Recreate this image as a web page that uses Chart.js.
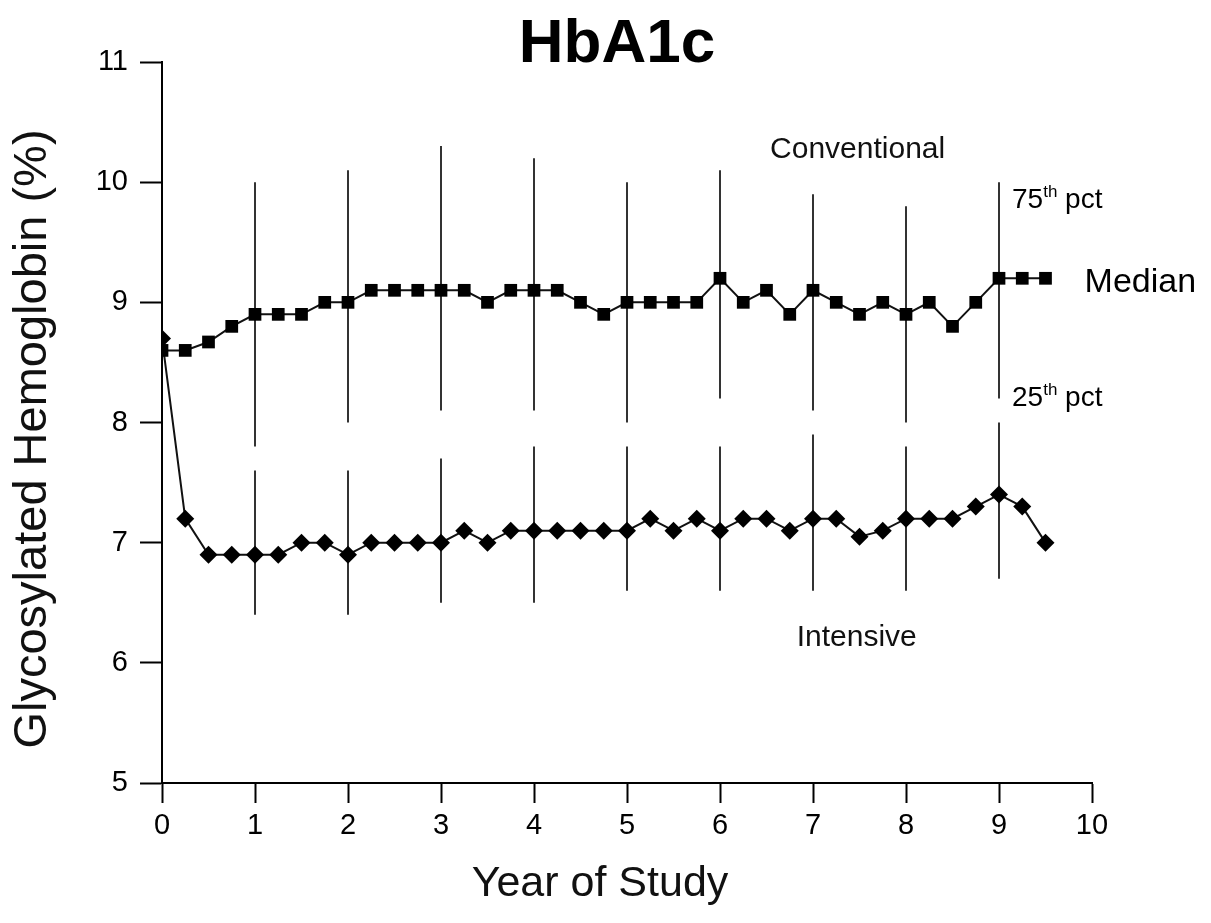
<!DOCTYPE html>
<html>
<head>
<meta charset="utf-8">
<title>HbA1c</title>
<script src="https://cdn.jsdelivr.net/npm/chart.js@4.4.0/dist/chart.umd.min.js"></script>
<style>
  html, body { margin: 0; padding: 0; background: #fff; }
  #wrap { position: relative; width: 1211px; height: 923px; }
</style>
</head>
<body>
<div id="wrap"><canvas id="hba1c"></canvas></div>
<script>
// quarterly visits, years since entry
const quarters = [0, 0.25, 0.5, 0.75, 1, 1.25, 1.5, 1.75, 2, 2.25, 2.5, 2.75, 3, 3.25, 3.5, 3.75,
  4, 4.25, 4.5, 4.75, 5, 5.25, 5.5, 5.75, 6, 6.25, 6.5, 6.75, 7, 7.25, 7.5, 7.75,
  8, 8.25, 8.5, 8.75, 9, 9.25, 9.5];

// medians
const conventionalMedian = [8.6, 8.6, 8.67, 8.8, 8.9, 8.9, 8.9, 9.0, 9.0, 9.1, 9.1, 9.1, 9.1, 9.1, 9.0, 9.1,
  9.1, 9.1, 9.0, 8.9, 9.0, 9.0, 9.0, 9.0, 9.2, 9.0, 9.1, 8.9, 9.1, 9.0, 8.9, 9.0,
  8.9, 9.0, 8.8, 9.0, 9.2, 9.2, 9.2];
const intensiveMedian = [8.7, 7.2, 6.9, 6.9, 6.9, 6.9, 7.0, 7.0, 6.9, 7.0, 7.0, 7.0, 7.0, 7.1, 7.0, 7.1,
  7.1, 7.1, 7.1, 7.1, 7.1, 7.2, 7.1, 7.2, 7.1, 7.2, 7.2, 7.1, 7.2, 7.2, 7.05, 7.1,
  7.2, 7.2, 7.2, 7.3, 7.4, 7.3, 7.0];

// 25th-75th percentile bars once a year
const barYears = [1, 2, 3, 4, 5, 6, 7, 8, 9];
const conv75 = [10.0, 10.1, 10.3, 10.2, 10.0, 10.1, 9.9, 9.8, 10.0];
const conv25 = [7.8, 8.0, 8.1, 8.1, 8.0, 8.2, 8.1, 8.0, 8.2];
const int75 = [7.6, 7.6, 7.7, 7.8, 7.8, 7.8, 7.9, 7.8, 8.0];
const int25 = [6.4, 6.4, 6.5, 6.5, 6.6, 6.6, 6.6, 6.6, 6.7];

const xTicks = [0, 1, 2, 3, 4, 5, 6, 7, 8, 9, 10];
const yTicks = [5, 6, 7, 8, 9, 10, 11];

const FONT = "'Liberation Sans', Arial, Helvetica, sans-serif";

const toPoints = (xs, ys) => xs.map((x, i) => ({ x: x, y: ys[i] }));

// each bar is two points then a gap
function barSegments(hi, lo) {
  const out = [];
  barYears.forEach((yr, i) => {
    out.push({ x: yr, y: hi[i] });
    out.push({ x: yr, y: lo[i] });
    out.push({ x: yr, y: null });
  });
  return out;
}

// title, axis titles and the free labels on the plot
const notes = {
  id: 'notes',
  afterDraw(chart) {
    const { ctx, scales: { x, y } } = chart;
    ctx.save();
    ctx.fillStyle = '#000';

    ctx.font = 'bold 62px ' + FONT;
    ctx.textAlign = 'center';
    ctx.textBaseline = 'alphabetic';
    ctx.fillText('HbA1c', 617, 62);

    // axis titles sit a bit off centre in the original
    ctx.font = '43px ' + FONT;
    ctx.fillStyle = '#111';
    ctx.fillText('Year of Study', 600, 896);
    ctx.save();
    ctx.translate(33, 439);
    ctx.rotate(-Math.PI / 2);
    ctx.font = '47px ' + FONT;
    ctx.textBaseline = 'middle';
    ctx.fillText('Glycosylated Hemoglobin (%)', 0, 0);
    ctx.restore();

    ctx.font = '30px ' + FONT;
    ctx.textBaseline = 'middle';
    ctx.fillText('Conventional', x.getPixelForValue(7.48), y.getPixelForValue(10.27));
    ctx.fillText('Intensive', x.getPixelForValue(7.47), y.getPixelForValue(6.21));

    ctx.fillStyle = '#000';
    ctx.textAlign = 'left';
    ctx.font = '34px ' + FONT;
    ctx.fillText('Median', x.getPixelForValue(9.92), y.getPixelForValue(9.16));

    const pct = (num, yv) => {
      let px = x.getPixelForValue(9.14);
      const py = y.getPixelForValue(yv);
      ctx.textBaseline = 'alphabetic';
      ctx.font = '28px ' + FONT;
      ctx.fillText(num, px, py);
      px += ctx.measureText(num).width;
      ctx.font = '17px ' + FONT;
      ctx.fillText('th', px, py - 11);
      px += ctx.measureText('th').width;
      ctx.font = '28px ' + FONT;
      ctx.fillText(' pct', px, py);
    };
    pct('75', 9.785);
    pct('25', 8.14);
    ctx.restore();
  }
};

new Chart(document.getElementById('hba1c'), {
  type: 'line',
  data: {
    datasets: [
      {
        label: 'Conventional',
        data: toPoints(quarters, conventionalMedian),
        borderColor: '#111',
        borderWidth: 2,
        pointStyle: 'rect',
        pointRadius: 9,
        pointBackgroundColor: '#000',
        pointBorderWidth: 0
      },
      {
        label: 'Intensive',
        data: toPoints(quarters, intensiveMedian),
        borderColor: '#111',
        borderWidth: 2,
        pointStyle: 'rectRot',
        pointRadius: 9,
        pointBackgroundColor: '#000',
        pointBorderWidth: 0
      },
      {
        label: 'Conventional pct',
        data: barSegments(conv75, conv25),
        borderColor: '#333',
        borderWidth: 2,
        pointRadius: 0,
        spanGaps: false
      },
      {
        label: 'Intensive pct',
        data: barSegments(int75, int25),
        borderColor: '#333',
        borderWidth: 2,
        pointRadius: 0,
        spanGaps: false
      }
    ]
  },
  options: {
    responsive: true,
    maintainAspectRatio: false,
    animation: false,
    events: [],
    layout: { padding: { top: 62, right: 119, bottom: 0, left: 0 } },
    plugins: {
      legend: { display: false },
      tooltip: { enabled: false }
    },
    scales: {
      x: {
        type: 'linear',
        min: 0,
        max: 10,
        afterBuildTicks: s => { s.ticks = xTicks.map(v => ({ value: v })); },
        afterFit: s => { s.height = 140; },
        grid: { drawOnChartArea: false, drawTicks: true, tickLength: 20, tickColor: '#000', tickWidth: 2 },
        border: { display: true, color: '#000', width: 2 },
        ticks: { color: '#000', padding: 6, font: { family: FONT, size: 29 } }
      },
      y: {
        type: 'linear',
        min: 5,
        max: 11,
        afterBuildTicks: s => { s.ticks = yTicks.map(v => ({ value: v })); },
        afterFit: s => { s.width = 162; },
        grid: { drawOnChartArea: false, drawTicks: true, tickLength: 22, tickColor: '#000', tickWidth: 2 },
        border: { display: true, color: '#000', width: 2 },
        ticks: { color: '#000', padding: 12, font: { family: FONT, size: 29 } }
      }
    }
  },
  plugins: [notes]
});
</script>
</body>
</html>
